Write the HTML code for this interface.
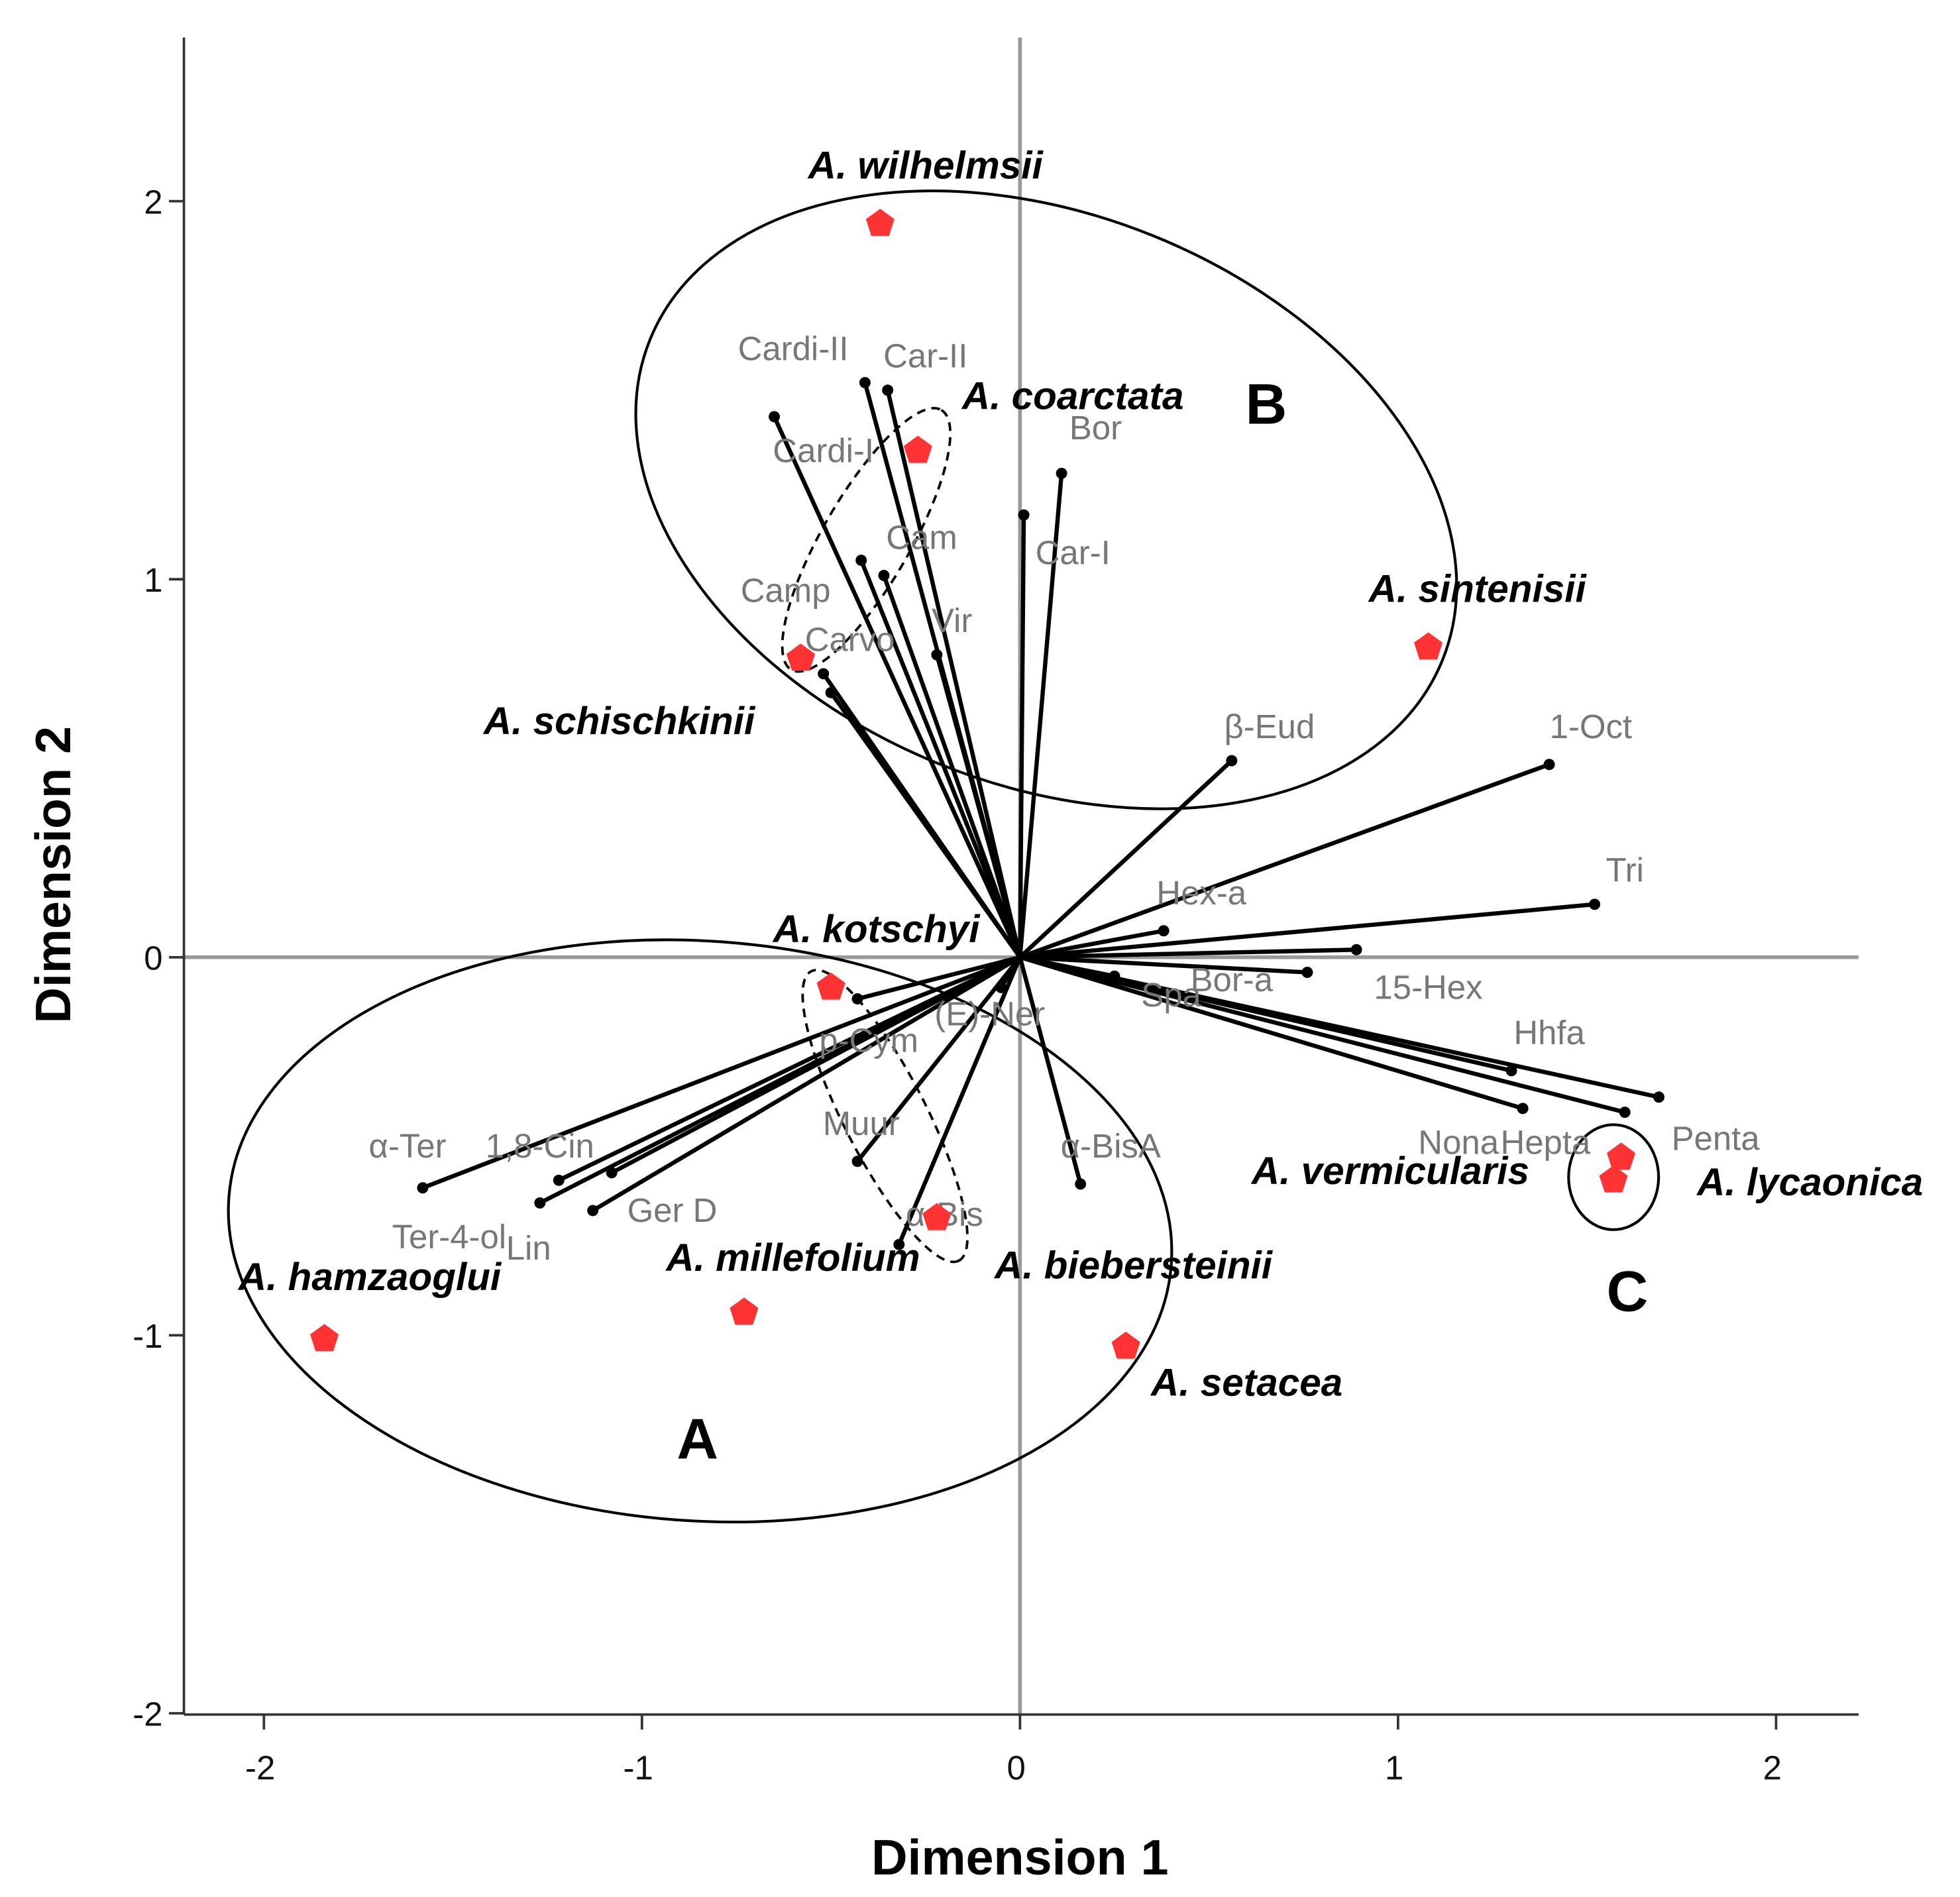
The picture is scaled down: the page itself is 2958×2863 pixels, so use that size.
<!DOCTYPE html>
<html><head><meta charset="utf-8"><style>
html,body{margin:0;padding:0;background:#fff}
svg{display:block}
</style></head><body>
<svg id="chart" width="2958" height="2863" viewBox="0 0 1568 1518" xmlns="http://www.w3.org/2000/svg" font-family="Liberation Sans, Arial, sans-serif">
<rect width="1568" height="1518" fill="#fff"/>
<g id="axes"></g>
<g id="ellipses">
<ellipse cx="837" cy="400" rx="342" ry="228" transform="rotate(22 837 400)" fill="none" stroke="#000" stroke-width="2.2"/>
<ellipse cx="560" cy="985" rx="378" ry="232" transform="rotate(4 560 985)" fill="none" stroke="#000" stroke-width="2.2"/>
<ellipse cx="1291" cy="942" rx="36" ry="42" fill="none" stroke="#000" stroke-width="2.2"/>
<ellipse cx="693" cy="432" rx="120" ry="35" transform="rotate(-60 693 432)" fill="none" stroke="#000" stroke-width="2" stroke-dasharray="7,5"/>
<ellipse cx="708" cy="893" rx="130" ry="33" transform="rotate(63 708 893)" fill="none" stroke="#000" stroke-width="2" stroke-dasharray="7,5"/>
</g>
<g id="vectors"></g>
<g id="species"></g>
<text x="1013" y="339" font-size="46" font-weight="bold" text-anchor="middle">B</text>
<text x="558" y="1167" font-size="46" font-weight="bold" text-anchor="middle">A</text>
<text x="1302" y="1049" font-size="46" font-weight="bold" text-anchor="middle">C</text>
<text x="816" y="1500" font-size="40" font-weight="bold" text-anchor="middle">Dimension 1</text>
<text transform="translate(56 700) rotate(-90)" font-size="40" font-weight="bold" text-anchor="middle">Dimension 2</text>
</svg>
<script>
const xTicks=[-2,-1,0,1,2];
const yTicks=[-2,-1,0,1,2];
const varNames=["Cardi-II","Car-II","Car-II b","Camp","Cam","Vir","Carvo","Schis","Car-I","Bor","β-Eud","1-Oct","Tri","Hex-a","15-Hex","Bor-a","Spa","Hhfa","Nona","Hepta","Penta","α-Ter","1,8-Cin","Cin b","Ter-4-ol","Ger D","p-Cym","Muur","α-Bis","α-BisA","(E)-Ner"];
const varX=[-0.65,-0.41,-0.35,-0.42,-0.36,-0.22,-0.52,-0.5,0.01,0.11,0.56,1.40,1.52,0.38,0.89,0.76,0.25,1.30,1.33,1.60,1.69,-1.58,-1.22,-1.08,-1.27,-1.13,-0.43,-0.43,-0.32,0.16,-0.05];
const varY=[1.43,1.52,1.50,1.05,1.01,0.80,0.75,0.70,1.17,1.28,0.52,0.51,0.14,0.07,0.02,-0.04,-0.05,-0.30,-0.40,-0.41,-0.37,-0.61,-0.59,-0.57,-0.65,-0.67,-0.11,-0.54,-0.76,-0.60,-0.08];
const labels=["Cardi-II","Car-II","Cardi-I","Camp","Cam","Vir","Carvo","β-Eud","1-Oct","Tri","Hex-a","15-Hex","Bor-a","Spa","Hhfa","Nona","Hepta","Penta","α-Ter","1,8-Cin","Ter-4-ol","Lin","Ger D","p-Cym","(E)-Ner","Muur","α-Bis","α-BisA","Car-I","Bor"];
const labelX=[-0.60,-0.25,-0.52,-0.62,-0.26,-0.18,-0.45,0.66,1.51,1.60,0.48,1.08,0.56,0.40,1.40,1.16,1.39,1.84,-1.62,-1.27,-1.51,-1.30,-0.92,-0.40,-0.08,-0.42,-0.20,0.24,0.14,0.20];
const labelY=[1.58,1.56,1.31,0.94,1.08,0.86,0.81,0.58,0.58,0.20,0.14,-0.11,-0.09,-0.13,-0.23,-0.52,-0.52,-0.51,-0.53,-0.53,-0.77,-0.80,-0.70,-0.25,-0.18,-0.47,-0.71,-0.53,1.04,1.37];
const spNames=["A. wilhelmsii","A. coarctata","A. schischkinii","A. sintenisii","A. kotschyi","A. millefolium","A. biebersteinii","A. hamzaoglui","A. setacea","A. vermicularis","A. lycaonica"];
const spX=[-0.37,-0.27,-0.58,1.08,-0.50,-0.73,-0.22,-1.84,0.28,1.57,1.59];
const spY=[1.94,1.34,0.79,0.82,-0.08,-0.94,-0.69,-1.01,-1.03,-0.59,-0.53];
const spLabX=[-0.25,0.14,-1.06,1.21,-0.38,-0.60,0.30,-1.72,0.60,0.98,2.09];
const spLabY=[2.06,1.45,0.59,0.94,0.04,-0.83,-0.85,-0.88,-1.16,-0.60,-0.63];

const X0=816,Y0=766,U=302.5;
const sx=v=>X0+v*U, sy=v=>Y0-v*U;
const NS="http://www.w3.org/2000/svg";
function mk(tag,parent,attrs){const e=document.createElementNS(NS,tag);for(const k in attrs)e.setAttribute(k,attrs[k]);parent.appendChild(e);return e;}
const axes=document.getElementById('axes');
let e;
e=mk('line',axes,{x1:sx(0),y1:30,x2:sx(0),y2:1372,stroke:'#999',"stroke-width":3});


e=mk('line',axes,{x1:147,y1:sy(0),x2:1487,y2:sy(0),stroke:'#999',"stroke-width":3});


e=mk('line',axes,{x1:147,y1:30,x2:147,y2:1372,stroke:'#333',"stroke-width":2});


e=mk('line',axes,{x1:147,y1:1372,x2:1487,y2:1372,stroke:'#333',"stroke-width":2});


xTicks.forEach(t=>{
  e=mk('line',axes,{x1:sx(t),y1:1372,x2:sx(t),y2:1384,stroke:'#333',"stroke-width":2});
  
  
  e=mk('text',axes,{x:sx(t)-3,y:1424,"font-size":27,"text-anchor":"middle",fill:'#111'});
  e.textContent=t;
  
  
});
yTicks.forEach(t=>{
  e=mk('line',axes,{x1:135,y1:sy(t),x2:147,y2:sy(t),stroke:'#333',"stroke-width":2});
  
  
  e=mk('text',axes,{x:130,y:sy(t)+10,"font-size":27,"text-anchor":"end",fill:'#111'});
  e.textContent=t;
  
  
});
const vg=document.getElementById('vectors');
varX.forEach((v,i)=>{
  e=mk('line',vg,{x1:sx(0),y1:sy(0),x2:sx(v),y2:sy(varY[i]),stroke:'#000',"stroke-width":3.4});
  
  
  e=mk('circle',vg,{cx:sx(v),cy:sy(varY[i]),r:4.5,fill:'#000'});
  
  
});
labels.forEach((l,i)=>{
  e=mk('text',vg,{x:sx(labelX[i]),y:sy(labelY[i]),"font-size":27,fill:'#777',"text-anchor":"middle"});
  e.textContent=l;
  
  
});
const sg=document.getElementById('species');
function pent(cx,cy,r){let p=[];for(let k=0;k<5;k++){const a=-Math.PI/2+k*2*Math.PI/5;p.push((cx+r*Math.cos(a)).toFixed(1)+','+(cy+r*Math.sin(a)).toFixed(1));}return p.join(' ');}
spX.forEach((v,i)=>{
  e=mk('polygon',sg,{points:pent(sx(v),sy(spY[i]),12),fill:'#f33'});
  
  
  e=mk('text',sg,{x:sx(spLabX[i]),y:sy(spLabY[i]),"font-size":31,"font-weight":"bold","font-style":"italic","text-anchor":"middle",fill:'#000'});
  e.textContent=spNames[i];
  
  
});
</script>
</body></html>
